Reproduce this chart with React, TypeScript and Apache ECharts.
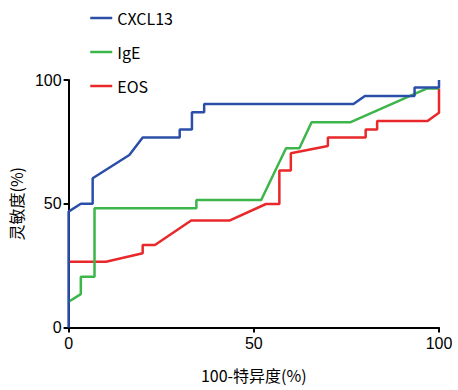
import React, { useEffect, useRef } from "react";
import * as echarts from "echarts";

const seriesNames = ["CXCL13", "IgE", "EOS"];
const seriesColors = ["#2b4fa8", "#3cb54a", "#e8282a"];

// [100 - specificity, sensitivity]
const cxcl13: [number, number][] = [
  [0, 0], [0, 46.8], [3.3, 50], [6.5, 50], [6.5, 60.3], [16.4, 69.7], [20, 76.8],
  [30, 76.8], [30, 80], [33.3, 80], [33.3, 87], [36.6, 87], [36.6, 90.3],
  [76.9, 90.3], [80, 93.5], [93.4, 93.5], [93.4, 97], [100, 97], [100, 100],
];
const ige: [number, number][] = [
  [0, 10.4], [3.3, 13.5], [3.3, 20.5], [7, 20.5], [7, 48.2], [34.5, 48.2],
  [34.5, 51.5], [52, 51.5], [58.7, 72.4], [62.3, 72.4], [65.6, 82.9], [76, 82.9],
  [96.8, 96.6], [100, 96.6],
];
const eos: [number, number][] = [
  [0, 26.6], [10.1, 26.6], [20, 30], [20, 33.3], [23.3, 33.3], [33.1, 43.2],
  [43.4, 43.2], [53.3, 49.9], [56.9, 49.9], [56.9, 63.4], [60, 63.4], [60, 70.4],
  [70, 73.3], [70, 76.8], [80.2, 76.8], [80.2, 80], [83.3, 80], [83.3, 83.4],
  [96.9, 83.4], [100, 86.8], [100, 96.6],
];
const xTicks = [0, 50, 100];
const yTicks = [0, 50, 100];
const xTitle = "100-特异度(%)";
const yTitle = "灵敏度(%)";

export default function App() {
  const ref = useRef<HTMLDivElement>(null);
  useEffect(() => {
    if (!ref.current) return;
    const chart = echarts.init(ref.current, null, { renderer: "svg" });
    const datasets = [cxcl13, ige, eos];
    const axisCommon = {
      type: "value" as const,
      min: xTicks[0],
      max: xTicks[xTicks.length - 1],
      interval: 50,
      splitLine: { show: false },
      axisLine: { show: true, lineStyle: { color: "#000", width: 2 } },
      axisTick: { show: true, inside: false, length: 5, lineStyle: { color: "#000", width: 2 } },
      axisLabel: { color: "#000", fontSize: 16, fontFamily: "Liberation Sans, Arial, sans-serif" },
      nameTextStyle: { color: "#000", fontSize: 16, fontFamily: "Noto Sans CJK SC" },
    };
    chart.setOption({
      animation: false,
      backgroundColor: "#fff",
      grid: { left: 67, right: 19, top: 80, bottom: 62.5, containLabel: false },
      legend: {
        orient: "vertical",
        left: 84,
        top: 5,
        itemWidth: 22,
        itemHeight: 16,
        itemGap: 18,
        data: seriesNames,
        itemStyle: { opacity: 0 },
        lineStyle: { width: 2.5 },
        textStyle: { color: "#000", fontSize: 16, fontFamily: "Noto Sans CJK SC" },
      },
      xAxis: {
        ...axisCommon,
        name: xTitle,
        nameLocation: "middle",
        nameGap: 39,
        axisLabel: { ...axisCommon.axisLabel, margin: 8 },
      },
      yAxis: {
        ...axisCommon,
        min: yTicks[0],
        max: yTicks[yTicks.length - 1],
        name: yTitle,
        nameLocation: "middle",
        nameGap: 40,
        nameRotate: 90,
        axisLabel: { ...axisCommon.axisLabel, margin: 7 },
      },
      series: seriesNames.map((name, i) => ({
        name,
        type: "line",
        data: datasets[i],
        symbol: "none",
        color: seriesColors[i],
        lineStyle: { width: 2.5, color: seriesColors[i] },
        z: 3 - i,
      })),
    });
    return () => chart.dispose();
  }, []);
  return <div ref={ref} style={{ width: 458, height: 390, position: "absolute", left: 0, top: 0 }} />;
}
